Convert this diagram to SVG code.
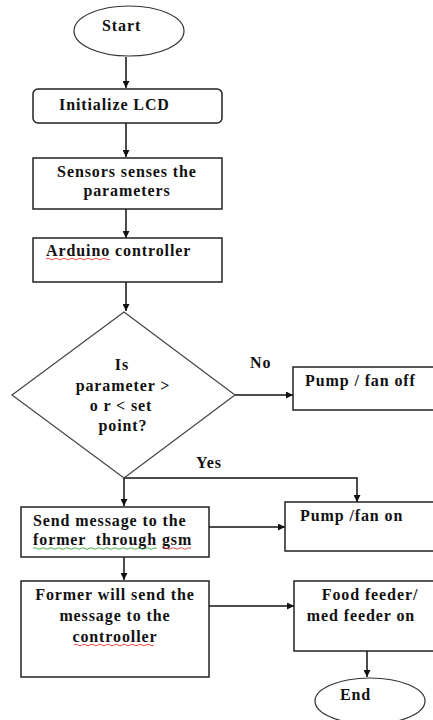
<svg xmlns="http://www.w3.org/2000/svg" width="433" height="720" viewBox="0 0 433 720">
<defs>
<marker id="ah" viewBox="0 0 10 10" refX="10" refY="5" markerWidth="7" markerHeight="7" markerUnits="userSpaceOnUse" orient="auto">
<path d="M0,0 L10,5 L0,10 z" fill="#111"/>
</marker>
<style>
.box{fill:#fff;stroke:#222;stroke-width:1.5}
.dia{fill:#fff;stroke:#444;stroke-width:1.2}
.t{font-family:"Liberation Serif","Times New Roman",serif;font-weight:bold;font-size:16px;fill:#111;letter-spacing:0.9px;white-space:pre}
.c{stroke:#111;stroke-width:1.5;fill:none}
.sq{fill:none;stroke-width:0.8}
</style>
</defs>
<rect width="433" height="720" fill="#fff"/>
<g id="connectors">
<path class="c" d="M126,57 V88" marker-end="url(#ah)"/>
<path class="c" d="M126,123 V157" marker-end="url(#ah)"/>
<path class="c" d="M126,200 V238" marker-end="url(#ah)"/>
<path class="c" d="M126,282 V311" marker-end="url(#ah)"/>
<path class="c" d="M235,395 H293" marker-end="url(#ah)"/>
<path class="c" d="M124,478 V506" marker-end="url(#ah)"/>
<path class="c" d="M124,478 H357 V502" marker-end="url(#ah)"/>
<path class="c" d="M209,527 H285" marker-end="url(#ah)"/>
<path class="c" d="M124,550 V580" marker-end="url(#ah)"/>
<path class="c" d="M209,606 H294" marker-end="url(#ah)"/>
<path class="c" d="M367,651 V677" marker-end="url(#ah)"/>
<text class="t" x="250" y="368">No</text>
<text class="t" x="196" y="468">Yes</text>
</g>
<g id="start">
<ellipse cx="129" cy="31" rx="55" ry="25" fill="#fff" stroke="#333" stroke-width="1.2"/>
<text class="t" x="102" y="31">Start</text>
</g>
<g id="init">
<rect class="box" x="33" y="89" width="189" height="34" rx="5"/>
<text class="t" x="59" y="110">Initialize LCD</text>
</g>
<g id="sensors">
<rect class="box" x="33" y="158" width="189" height="51"/>
<text class="t" x="127" y="177" text-anchor="middle">Sensors senses the</text>
<text class="t" x="127" y="196" text-anchor="middle">parameters</text>
</g>
<g id="arduino">
<rect class="box" x="33" y="238" width="189" height="44"/>
<text class="t" x="46" y="256">Arduino controller</text>
<path class="sq" stroke="#e02020" d="M46,259 q2,-1.5 4,0 t4,0 t4,0 t4,0 t4,0 t4,0 t4,0 t4,0 t4,0 t4,0 t4,0 t4,0 t4,0 t4,0 t4,0 t4,0"/>
</g>
<g id="decision">
<polygon class="dia" points="124,312 235,395 124,478 12,395"/>
<text class="t" x="122" y="370" text-anchor="middle">Is</text>
<text class="t" x="123" y="391" text-anchor="middle">parameter &gt;</text>
<text class="t" x="121" y="411" text-anchor="middle">o r &lt; set</text>
<text class="t" x="123" y="431" text-anchor="middle">point?</text>
</g>
<g id="fanoff">
<rect class="box" x="293" y="367" width="150" height="43"/>
<text class="t" x="305" y="386">Pump / fan off</text>
</g>
<g id="fanon">
<rect class="box" x="285" y="502" width="158" height="49"/>
<text class="t" x="300" y="521">Pump /fan on</text>
</g>
<g id="send">
<rect class="box" x="21" y="507" width="188" height="50"/>
<text class="t" x="33" y="526">Send message to the</text>
<text class="t" x="33" y="545">former  through gsm</text>
<path class="sq" stroke="#20a020" d="M33,548.5 q2,-1.5 4,0 t4,0 t4,0 t4,0 t4,0 t4,0 t4,0 t4,0 t4,0 t4,0 t4,0 t4,0 t4,0 t4,0 t4,0 t4,0 t4,0 t4,0 t4,0 t4,0 t4,0 t4,0 t4,0 t4,0 t4,0 t4,0 t4,0 t4,0 t4,0 t4,0 t4,0"/>
<path class="sq" stroke="#e02020" d="M163,548.5 q2,-1.5 4,0 t4,0 t4,0 t4,0 t4,0 t4,0 t4,0"/>
</g>
<g id="former">
<rect class="box" x="21" y="581" width="188" height="96"/>
<text class="t" x="115" y="600" text-anchor="middle">Former will send the</text>
<text class="t" x="115" y="621" text-anchor="middle">message to the</text>
<text class="t" x="115" y="642" text-anchor="middle">controoller</text>
<path class="sq" stroke="#e02020" d="M74,645 q2,-1.5 4,0 t4,0 t4,0 t4,0 t4,0 t4,0 t4,0 t4,0 t4,0 t4,0 t4,0 t4,0 t4,0 t4,0 t4,0 t4,0 t4,0 t4,0 t4,0 t4,0"/>
</g>
<g id="feeder">
<rect class="box" x="294" y="581" width="150" height="70"/>
<text class="t" x="370" y="600" text-anchor="middle">Food feeder/</text>
<text class="t" x="361" y="621" text-anchor="middle">med feeder on</text>
</g>
<g id="end">
<ellipse cx="370" cy="701" rx="55" ry="23" fill="#fff" stroke="#333" stroke-width="1.2"/>
<text class="t" x="340" y="700">End</text>
</g>
</svg>
